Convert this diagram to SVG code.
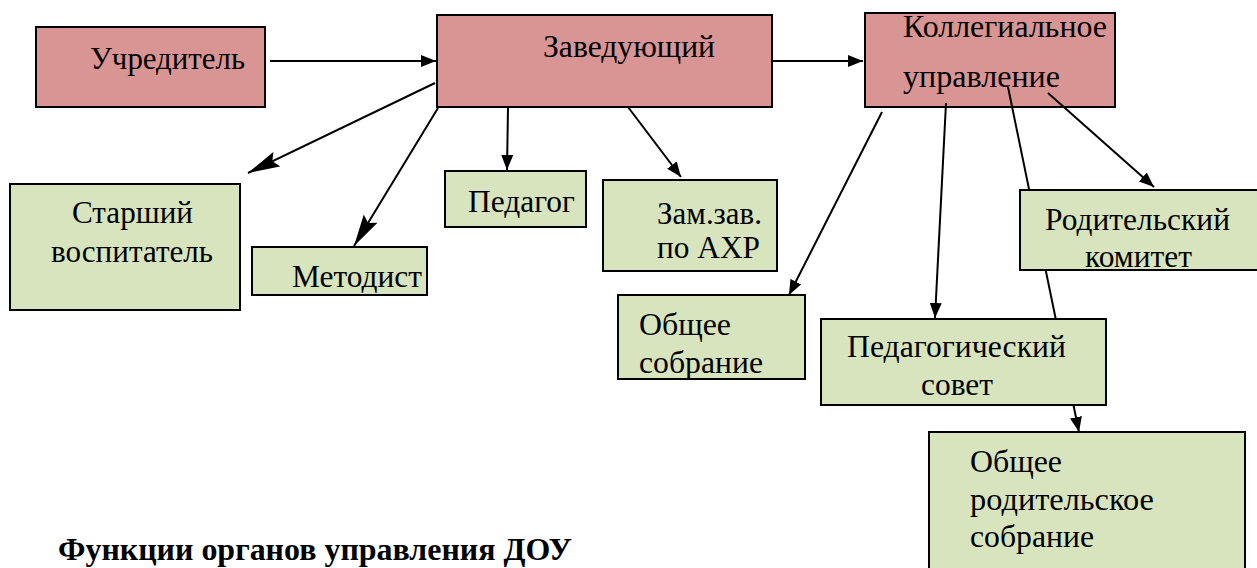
<svg xmlns="http://www.w3.org/2000/svg" width="1257" height="568" viewBox="0 0 1257 568">
<style>
.pink{fill:#D99594;stroke:#000;stroke-width:2}
.green{fill:#D7E4BD;stroke:#000;stroke-width:2}
.c{stroke:#000;stroke-width:2;fill:none}
.s{marker-end:url(#ah)}
.b{marker-end:url(#ahb)}
</style>
<defs>
<marker id="ah" markerUnits="userSpaceOnUse" markerWidth="15" markerHeight="12" refX="15" refY="6" orient="auto">
<path d="M0,0 L15,6 L0,12 z" fill="#000"/>
</marker>
<marker id="ahb" markerUnits="userSpaceOnUse" markerWidth="32" markerHeight="18" refX="32" refY="9" orient="auto">
<path d="M0,1 L32,9 L0,17 L5,9 z" fill="#000"/>
</marker>
</defs>
<rect width="1257" height="568" fill="#fff"/>
<g font-family="Liberation Serif, serif" font-size="31">
<g id="uchreditel">
<rect class="pink" x="36" y="27" width="229" height="80"/>
<text x="90" y="69" textLength="155" lengthAdjust="spacingAndGlyphs">Учредитель</text>
</g>
<g id="zaveduyushchiy">
<rect class="pink" x="437" y="15" width="335" height="92"/>
<text x="543" y="57" textLength="172" lengthAdjust="spacingAndGlyphs">Заведующий</text>
</g>
<g id="kollegialnoe">
<rect class="pink" x="865" y="13" width="250" height="94"/>
<text x="903" y="37" textLength="204" lengthAdjust="spacingAndGlyphs">Коллегиальное</text>
<text x="903" y="87" textLength="157" lengthAdjust="spacingAndGlyphs">управление</text>
</g>
<g id="connectors">
<line class="c s" x1="270" y1="61" x2="436" y2="61"/>
<line class="c b" x1="435" y1="83" x2="248" y2="173" stroke-width="3"/>
<line class="c b" x1="438" y1="108" x2="354" y2="246"/>
<line class="c s" x1="508" y1="108" x2="507" y2="170"/>
<line class="c s" x1="628" y1="107" x2="681" y2="177"/>
<line class="c s" x1="773" y1="61" x2="863" y2="61"/>
<line class="c s" x1="882" y1="112" x2="789" y2="295"/>
<line class="c s" x1="946" y1="103" x2="935" y2="318"/>
<line class="c s" x1="1008" y1="87" x2="1079" y2="432"/>
<line class="c s" x1="1048" y1="93" x2="1154" y2="187"/>
</g>
<g id="starshiy">
<rect class="green" x="10" y="184" width="230" height="126"/>
<text x="72" y="223" textLength="121" lengthAdjust="spacingAndGlyphs">Старший</text>
<text x="51" y="262" textLength="162" lengthAdjust="spacingAndGlyphs">воспитатель</text>
</g>
<g id="metodist">
<rect class="green" x="252" y="247" width="175" height="48"/>
<text x="292" y="287" textLength="130" lengthAdjust="spacingAndGlyphs">Методист</text>
</g>
<g id="pedagog">
<rect class="green" x="445" y="171" width="141" height="56"/>
<text x="468" y="212" textLength="107" lengthAdjust="spacingAndGlyphs">Педагог</text>
</g>
<g id="zamzav">
<rect class="green" x="603" y="180" width="174" height="91"/>
<text x="657" y="224" textLength="105" lengthAdjust="spacingAndGlyphs">Зам.зав.</text>
<text x="657" y="258" textLength="103" lengthAdjust="spacingAndGlyphs">по АХР</text>
</g>
<g id="roditelskiy-komitet">
<rect class="green" x="1020" y="190" width="240" height="80"/>
<text x="1045" y="230" textLength="185" lengthAdjust="spacingAndGlyphs">Родительский</text>
<text x="1085" y="267" textLength="107" lengthAdjust="spacingAndGlyphs">комитет</text>
</g>
<g id="obshchee-sobranie">
<rect class="green" x="618" y="295" width="187" height="84"/>
<text x="639" y="335" textLength="92" lengthAdjust="spacingAndGlyphs">Общее</text>
<text x="639" y="373" textLength="124" lengthAdjust="spacingAndGlyphs">собрание</text>
</g>
<g id="pedsovet">
<rect class="green" x="821" y="319" width="285" height="86"/>
<text x="847" y="357" textLength="219" lengthAdjust="spacingAndGlyphs">Педагогический</text>
<text x="921" y="395" textLength="72" lengthAdjust="spacingAndGlyphs">совет</text>
</g>
<g id="obshchee-roditelskoe">
<rect class="green" x="929" y="432" width="316" height="150"/>
<text x="970" y="472" textLength="92" lengthAdjust="spacingAndGlyphs">Общее</text>
<text x="970" y="510" textLength="184" lengthAdjust="spacingAndGlyphs">родительское</text>
<text x="970" y="547" textLength="124" lengthAdjust="spacingAndGlyphs">собрание</text>
</g>
<text font-weight="bold" x="58" y="560" textLength="514" lengthAdjust="spacingAndGlyphs">Функции органов управления ДОУ</text>
</g>
</svg>
